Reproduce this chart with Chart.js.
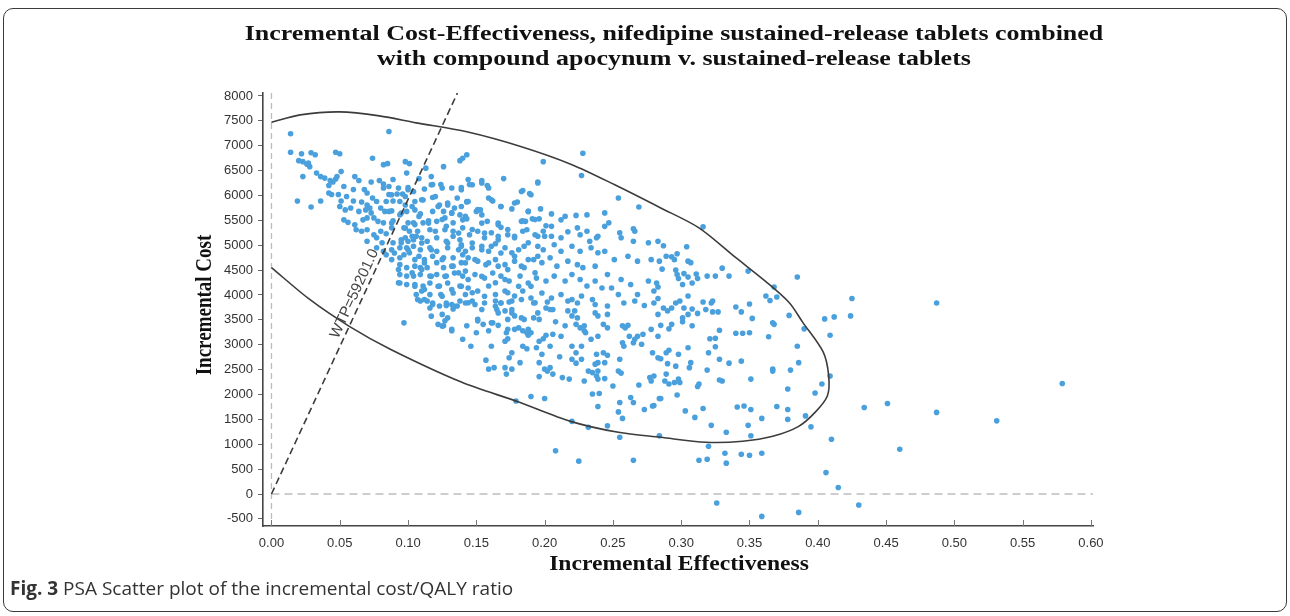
<!DOCTYPE html>
<html>
<head>
<meta charset="utf-8">
<script src="https://cdn.jsdelivr.net/npm/chart.js@4.4.1/dist/chart.umd.min.js"></script>
<style>
  html, body { margin: 0; padding: 0; background: #fff; }
  #wrap { position: relative; width: 1290px; height: 616px; overflow: hidden; }
  #frame { position: absolute; left: 3px; top: 8px; width: 1284px; height: 604px; box-sizing: border-box;
           border: 1px solid #3a3a3a; border-radius: 10px; pointer-events: none; }
  #caption { position: absolute; left: 10px; top: 575px; font-family: 'Open Sans', sans-serif;
             font-size: 19px; line-height: 26px; color: #333; white-space: nowrap; }
  #caption b { font-weight: 700; }
</style>
</head>
<body>
<div id="wrap">
  <canvas id="psaChart" width="1290" height="616"></canvas>
  <div id="frame"></div>
  <div id="caption"><b>Fig. 3</b> PSA Scatter plot of the incremental cost/QALY ratio</div>
</div>
<script>
const titleLines = [
    'Incremental Cost-Effectiveness, nifedipine sustained-release tablets combined',
    'with compound apocynum v. sustained-release tablets'
];
const xTitle = 'Incremental Effectiveness';
const yTitle = 'Incremental Cost';
const xTicks = [0, 0.05, 0.10, 0.15, 0.20, 0.25, 0.30, 0.35, 0.40, 0.45, 0.50, 0.55, 0.60];
const yTicks = [-500, 0, 500, 1000, 1500, 2000, 2500, 3000, 3500, 4000, 4500, 5000, 5500, 6000, 6500, 7000, 7500, 8000];

const wtp = 59201.0;

// confidence ellipse (effectiveness / cost)
const ellipseEffect = [0.000, 0.021, 0.050, 0.079, 0.106, 0.143, 0.183, 0.220, 0.251, 0.285, 0.313, 0.340, 0.362, 0.379, 0.389, 0.404,
    0.408, 0.407, 0.398, 0.386, 0.367, 0.345, 0.318, 0.285, 0.254, 0.219, 0.181, 0.139, 0.087, 0.057, 0.028, 0.000];
const ellipseCost = [7470, 7620, 7680, 7600, 7460, 7280, 6980, 6620, 6220, 5750, 5350, 4750, 4270, 3850, 3450, 2850,
    2370, 1970, 1640, 1360, 1160, 1060, 1040, 1140, 1240, 1460, 1850, 2250, 2910, 3370, 3910, 4550];

// PSA runs: [incremental effectiveness, incremental cost]
const psaRuns = [
    [0.014,7240],[0.086,7285],[0.014,6870],[0.022,6840],[0.029,6860],[0.032,6820],[0.047,6870],[0.050,6840],[0.074,6750],
    [0.020,6700],[0.023,6680],[0.026,6630],[0.028,6580],[0.027,6650],[0.082,6620],[0.085,6640],[0.098,6680],[0.101,6640],
    [0.113,6550],[0.126,6580],[0.138,6700],[0.023,6380],[0.033,6450],[0.036,6380],[0.039,6350],[0.043,6300],[0.047,6330],
    [0.048,6380],[0.051,6480],[0.061,6380],[0.064,6300],[0.073,6270],[0.079,6300],[0.082,6230],[0.089,6320],[0.099,6450],
    [0.108,6340],[0.117,6380],[0.118,6220],[0.124,6220],[0.132,6150],[0.139,6160],[0.042,6200],[0.045,6270],[0.053,6180],
    [0.060,6120],[0.068,6120],[0.070,6050],[0.082,6150],[0.086,6020],[0.092,6030],[0.096,6030],[0.100,6160],[0.104,6080],
    [0.112,6130],[0.019,5890],[0.029,5770],[0.036,5890],[0.042,6050],[0.044,6020],[0.049,6020],[0.051,5890],[0.055,5980],
    [0.060,5890],[0.066,5870],[0.070,5810],[0.074,5950],[0.077,5880],[0.084,5880],[0.089,5890],[0.094,5880],[0.098,5810],
    [0.105,5880],[0.111,5910],[0.118,5960],[0.123,5810],[0.129,5810],[0.134,5750],[0.139,5780],[0.143,5880],[0.050,5780],
    [0.054,5710],[0.058,5750],[0.064,5680],[0.069,5710],[0.072,5750],[0.073,5650],[0.080,5750],[0.083,5680],[0.088,5690],
    [0.099,5680],[0.105,5710],[0.109,5630],[0.118,5680],[0.126,5680],[0.132,5650],[0.138,5610],[0.053,5510],[0.056,5460],
    [0.061,5410],[0.067,5510],[0.070,5550],[0.075,5550],[0.078,5480],[0.082,5450],[0.089,5490],[0.094,5610],[0.100,5450],
    [0.104,5450],[0.111,5450],[0.115,5490],[0.121,5480],[0.127,5550],[0.133,5450],[0.140,5510],[0.062,5310],[0.066,5280],
    [0.070,5310],[0.075,5210],[0.080,5280],[0.084,5230],[0.088,5350],[0.097,5350],[0.101,5280],[0.107,5280],[0.116,5310],
    [0.120,5280],[0.127,5310],[0.133,5280],[0.140,5350],[0.070,5080],[0.077,5150],[0.081,5050],[0.089,5050],[0.095,5050],
    [0.098,5150],[0.100,5080],[0.104,5110],[0.106,5180],[0.110,5150],[0.114,5080],[0.121,5150],[0.128,5080],[0.133,5180],
    [0.138,5110],[0.077,4950],[0.082,4880],[0.088,4910],[0.094,4950],[0.099,4950],[0.104,4980],[0.109,4910],[0.116,4950],
    [0.121,4880],[0.129,4950],[0.137,4910],[0.142,4880],[0.084,4810],[0.088,4710],[0.094,4750],[0.097,4810],[0.101,4850],
    [0.108,4780],[0.112,4710],[0.118,4780],[0.126,4750],[0.133,4750],[0.140,4810],[0.094,4610],[0.099,4550],[0.105,4580],
    [0.109,4550],[0.114,4550],[0.121,4650],[0.126,4550],[0.133,4580],[0.139,4650],[0.094,4410],[0.099,4380],[0.104,4380],
    [0.109,4410],[0.116,4380],[0.121,4410],[0.128,4380],[0.134,4440],[0.140,4380],[0.094,4240],[0.099,4210],[0.105,4210],
    [0.111,4180],[0.116,4240],[0.123,4180],[0.129,4240],[0.138,4180],[0.106,4010],[0.110,4080],[0.116,4010],[0.124,4010],
    [0.133,4040],[0.142,4010],[0.109,3880],[0.118,3840],[0.128,3840],[0.138,3880],
    [0.097,3440],[0.107,3910],[0.114,3880],[0.118,3810],[0.116,3740],[0.123,3780],[0.128,3790],[0.132,3810],[0.136,3780],
    [0.133,3720],[0.125,3610],[0.129,3540],[0.127,3480],[0.122,3410],[0.126,3380],[0.132,3280],[0.140,3110],[0.143,3380],
    [0.228,6850],[0.199,6680],[0.227,6400],[0.143,6820],[0.140,6750],[0.170,6340],[0.195,6270],[0.154,6300],[0.158,6200],
    [0.144,6320],[0.145,6220],[0.184,6100],[0.189,6040],[0.254,5950],[0.269,5770],[0.143,5870],[0.159,5950],[0.162,5890],
    [0.168,5780],[0.176,5730],[0.180,5870],[0.188,5680],[0.197,5730],[0.205,5630],[0.215,5580],[0.223,5600],[0.231,5610],
    [0.244,5650],[0.247,5450],[0.212,5510],[0.150,5680],[0.153,5710],[0.154,5610],[0.143,5530],[0.158,5480],[0.166,5410],
    [0.168,5360],[0.184,5490],[0.186,5480],[0.191,5530],[0.196,5530],[0.201,5390],[0.205,5380],[0.224,5350],[0.231,5280],
    [0.239,5180],[0.244,5380],[0.255,5250],[0.256,5150],[0.265,5330],[0.266,5280],[0.265,5080],[0.276,5050],[0.283,5080],
    [0.145,5210],[0.151,5280],[0.156,5150],[0.161,5250],[0.166,5180],[0.173,5210],[0.178,5150],[0.184,5280],[0.187,5310],
    [0.193,5210],[0.199,5280],[0.200,5180],[0.205,5180],[0.212,5150],[0.217,5270],[0.226,5210],[0.233,5080],[0.238,5150],
    [0.139,5010],[0.147,4950],[0.154,4980],[0.159,4880],[0.164,5030],[0.171,4950],[0.176,4850],[0.181,4910],[0.188,5050],
    [0.195,4980],[0.199,4910],[0.207,5010],[0.212,4880],[0.220,4980],[0.226,4880],[0.234,4950],[0.239,4850],[0.244,4880],
    [0.251,4710],[0.261,4780],[0.268,4680],[0.278,4710],[0.284,4680],[0.144,4750],[0.151,4680],[0.157,4610],[0.164,4710],
    [0.171,4610],[0.178,4680],[0.185,4550],[0.192,4710],[0.198,4650],[0.204,4750],[0.209,4580],[0.217,4680],[0.224,4610],
    [0.228,4550],[0.237,4580],[0.246,4410],[0.256,4310],[0.263,4210],[0.276,4280],[0.142,4480],[0.149,4410],[0.156,4340],
    [0.162,4440],[0.168,4380],[0.174,4280],[0.182,4380],[0.188,4240],[0.194,4340],[0.201,4280],[0.207,4380],[0.215,4280],
    [0.220,4410],[0.226,4310],[0.231,4180],[0.237,4280],[0.242,4140],[0.249,4140],[0.254,4010],[0.268,4010],[0.280,4080],
    [0.144,4140],[0.151,4080],[0.159,4180],[0.164,4010],[0.171,4080],[0.178,3980],[0.184,4080],[0.190,3940],[0.198,4040],
    [0.205,3940],[0.212,4010],[0.220,3910],[0.227,3980],[0.235,3910],[0.147,3880],[0.156,3840],[0.168,3840],[0.176,3880],
    [0.142,3840],[0.149,3810],[0.164,3880],[0.168,3840],[0.174,3860],[0.192,3840],[0.202,3860],[0.217,3880],[0.224,3840],
    [0.237,3810],[0.246,3780],[0.258,3840],[0.266,3880],[0.273,3790],[0.280,3840],[0.165,3710],[0.171,3680],[0.176,3640],
    [0.178,3580],[0.173,3510],[0.183,3540],[0.192,3540],[0.196,3510],[0.151,3480],[0.155,3410],[0.162,3440],[0.166,3390],
    [0.172,3240],[0.178,3310],[0.181,3340],[0.184,3280],[0.187,3240],[0.190,3240],[0.188,3190],[0.171,3070],[0.173,3120],
    [0.150,3240],[0.159,3280],[0.146,2970],[0.161,2970],[0.176,2840],[0.174,2740],[0.182,2640],[0.157,2690],[0.159,2510],
    [0.163,2540],[0.171,2540],[0.172,2410],[0.176,2510],[0.184,2970],[0.187,2920],[0.194,2940],[0.198,2810],[0.204,2970],
    [0.201,3740],[0.204,3710],[0.196,2640],[0.200,2510],[0.204,2540],[0.202,2470],[0.196,2360],[0.206,2410],[0.211,2760],
    [0.208,3460],[0.201,3190],[0.206,3210],[0.215,3380],[0.213,2340],[0.218,2310],[0.220,2710],[0.223,2840],[0.227,2710],
    [0.223,2630],[0.217,3680],[0.222,3680],[0.220,3580],[0.224,3540],[0.223,3410],[0.226,3340],[0.229,3380],[0.229,3280],
    [0.230,3240],[0.220,2970],[0.227,2970],[0.229,2270],[0.232,2470],[0.235,2440],[0.239,2470],[0.238,2370],[0.239,2310],
    [0.244,2320],[0.237,2610],[0.239,2640],[0.244,2640],[0.238,2810],[0.243,2840],[0.246,2790],[0.235,2010],[0.240,2020],
    [0.239,1760],[0.250,2170],[0.255,2710],[0.254,2470],[0.256,2430],[0.237,3640],[0.239,3580],[0.246,3610],[0.243,3410],
    [0.246,3340],[0.234,3110],[0.239,3170],[0.257,3380],[0.259,3340],[0.261,3390],[0.262,3170],[0.266,3110],[0.268,3170],
    [0.265,3040],[0.257,3040],[0.258,2970],[0.271,3010],[0.272,3210],[0.278,3310],[0.279,2840],[0.283,2740],[0.277,2340],
    [0.278,2270],[0.280,2370],[0.269,2190],[0.263,1940],[0.265,1840],[0.255,1840],[0.254,1650],[0.257,1520],[0.273,1700],
    [0.279,1770],[0.280,1780],[0.284,1920],[0.246,1370],[0.255,1140],[0.284,1170],[0.232,1340],[0.220,1460],[0.208,870],
    [0.225,660],[0.265,680],[0.190,1960],[0.200,1920],[0.179,1870],[0.196,3070],[0.199,3120],[0.212,3170],[0.206,3710],
    [0.316,5370],[0.287,4990],[0.304,4970],[0.289,4780],[0.293,4770],[0.295,4710],[0.297,4830],[0.305,4680],[0.307,4650],
    [0.286,4520],[0.296,4500],[0.297,4410],[0.302,4430],[0.305,4360],[0.298,4330],[0.301,4210],[0.308,4240],[0.311,4420],
    [0.312,4330],[0.319,4380],[0.325,4380],[0.330,4540],[0.335,4380],[0.349,4480],[0.368,4160],[0.385,4360],[0.425,3930],
    [0.362,3980],[0.370,3960],[0.365,3890],[0.282,4240],[0.283,4160],[0.305,3980],[0.299,3880],[0.316,3860],[0.323,3880],
    [0.350,3820],[0.283,3930],
    [0.287,3740],[0.293,3740],[0.290,3680],[0.296,3840],[0.302,3740],[0.308,3720],[0.318,3710],[0.322,3840],[0.323,3660],
    [0.327,3660],[0.340,3760],[0.344,3660],[0.283,3610],[0.305,3610],[0.312,3630],[0.301,3540],[0.301,3460],[0.308,3380],
    [0.293,3410],[0.285,3390],[0.291,3320],[0.283,3170],[0.352,3530],[0.367,3440],[0.368,3410],[0.379,3590],[0.328,3290],
    [0.340,3230],[0.345,3230],[0.350,3240],[0.364,3160],[0.321,3120],[0.325,3130],[0.325,2960],[0.305,2940],[0.291,2890],
    [0.289,2840],[0.298,2810],[0.320,2840],[0.328,2710],[0.344,2670],[0.335,2630],[0.307,2640],[0.306,2540],[0.296,2570],
    [0.290,2620],[0.285,2720],[0.319,2490],[0.367,2510],[0.367,2470],[0.380,2490],[0.386,2640],[0.385,2970],[0.390,3320],
    [0.289,2410],[0.288,2270],[0.291,2210],[0.295,2240],[0.298,2310],[0.299,2240],[0.312,2160],[0.313,2210],[0.328,2290],
    [0.330,2270],[0.351,2310],[0.378,2110],[0.403,2210],[0.409,2370],[0.409,3190],[0.412,3560],[0.405,3520],[0.424,3580],
    [0.398,2030],[0.297,1990],[0.285,1920],[0.316,1720],[0.303,1670],[0.310,1540],[0.341,1750],[0.346,1770],[0.351,1700],
    [0.370,1760],[0.378,1700],[0.359,1520],[0.378,1500],[0.391,1570],[0.395,1350],[0.349,1380],[0.322,1380],[0.333,1240],
    [0.351,1170],[0.410,1100],[0.320,960],[0.332,820],[0.344,800],[0.350,780],[0.359,820],[0.313,680],[0.319,700],
    [0.333,620],[0.406,430],[0.415,130],[0.326,-180],[0.359,-450],[0.386,-370],
    [0.487,3840],[0.579,2220],[0.434,1740],[0.451,1820],[0.487,1640],[0.531,1470],[0.460,900],[0.430,-220],
    [0.086,6180],[0.093,6150],[0.100,6115],[0.117,6215],[0.125,6150],[0.139,6115],[0.147,6215],[0.154,6250],[0.159,6150],
    [0.183,6080],[0.190,6015],[0.195,6250],[0.088,6015],[0.098,5980],[0.110,5915],[0.120,5980],[0.129,5850],[0.136,5950],
    [0.144,5880],[0.151,5715],[0.161,5915],[0.168,5780],[0.178,5850],[0.188,5680],[0.086,5680],[0.095,5645],[0.103,5780],
    [0.108,5580],[0.122,5780],[0.132,5645],[0.142,5580],[0.154,5445],[0.166,5445],[0.173,5315],[0.183,5480],[0.193,5515],
    [0.088,5445],[0.098,5345],[0.105,5415],[0.115,5445],[0.125,5515],[0.128,5380],[0.137,5245],[0.147,5315],[0.156,5245],
    [0.166,5110],[0.178,5180],[0.185,4980],[0.195,5180],[0.095,5110],[0.103,5180],[0.110,5045],[0.117,4910],[0.129,5045],
    [0.139,4980],[0.147,5045],[0.154,4910],[0.161,4980],[0.168,4845],[0.178,4780],[0.188,4710],[0.195,4780],[0.090,4845],
    [0.100,4910],[0.105,4710],[0.112,4645],[0.125,4710],[0.132,4580],[0.142,4645],[0.149,4710],[0.159,4645],[0.166,4580],
    [0.173,4510],[0.183,4580],[0.193,4445],[0.093,4510],[0.103,4445],[0.110,4510],[0.117,4375],[0.127,4375],[0.137,4445],
    [0.144,4310],[0.154,4375],[0.164,4245],[0.171,4310],[0.181,4175],[0.190,4175],[0.093,4245],[0.105,4175],[0.112,4110],
    [0.122,4175],[0.132,4110],[0.139,4175],[0.147,4045],[0.156,3975],[0.164,3775],[0.173,4045],[0.183,3910],[0.193,3845],
    [0.112,3910],[0.125,3975],[0.134,3775],[0.144,3845],[0.154,3710],[0.166,3640],[0.176,3710],[0.185,3510],[0.195,3640],
    [0.117,3575],[0.125,3375],[0.132,3310],[0.151,3510],[0.161,3440],[0.173,3310],[0.188,3310]
];

const yTop = 8060;
const textStretch = 1.18;   // the source figure is a bit wide, titles look stretched

function stretchedText(ctx, text, x, y, font, rotate) {
    ctx.save();
    ctx.translate(x, y);
    ctx.scale(textStretch, 1);
    if (rotate) ctx.rotate(rotate);
    ctx.font = font;
    ctx.fillStyle = '#111';
    ctx.textAlign = 'center';
    ctx.textBaseline = 'middle';
    ctx.fillText(text, 0, 0);
    ctx.restore();
}

// dashed zero lines, inward x ticks, WTP label and the titles
const decorPlugin = {
    id: 'decor',
    beforeDatasetsDraw(chart) {
        const { ctx, chartArea, scales } = chart;
        const x0 = scales.x.getPixelForValue(0);
        const y0 = scales.y.getPixelForValue(0);
        ctx.save();
        ctx.strokeStyle = '#bdbdbd';
        ctx.lineWidth = 1.3;
        ctx.setLineDash([6, 4]);
        ctx.beginPath();
        ctx.moveTo(x0, chartArea.top);
        ctx.lineTo(x0, chartArea.bottom);
        ctx.stroke();
        ctx.setLineDash([8, 5]);
        ctx.beginPath();
        ctx.moveTo(x0, y0);
        ctx.lineTo(chartArea.right, y0);
        ctx.stroke();
        ctx.setLineDash([]);
        ctx.strokeStyle = '#777';
        ctx.lineWidth = 1;
        xTicks.forEach(v => {
            const px = Math.round(scales.x.getPixelForValue(v)) + 0.5;
            ctx.beginPath();
            ctx.moveTo(px, chartArea.bottom);
            ctx.lineTo(px, chartArea.bottom - 6);
            ctx.stroke();
        });
        ctx.restore();
    },
    afterDatasetsDraw(chart) {
        const { ctx, scales, chartArea } = chart;
        const ax = scales.x.getPixelForValue(0), ay = scales.y.getPixelForValue(0);
        const bx = scales.x.getPixelForValue(yTop / wtp), by = scales.y.getPixelForValue(yTop);
        const angle = Math.atan2(by - ay, bx - ax);
        const at = 3950;
        ctx.save();
        ctx.translate(scales.x.getPixelForValue(at / wtp), scales.y.getPixelForValue(at));
        ctx.rotate(angle);
        ctx.font = '15px "Liberation Sans", sans-serif';
        ctx.fillStyle = '#444';
        ctx.textAlign = 'center';
        ctx.textBaseline = 'middle';
        ctx.fillText('WTP=' + wtp.toFixed(1), 0, -9);
        ctx.restore();

        const serif = '"Liberation Serif", serif';
        const midX = (chartArea.left + chartArea.right) / 2;
        stretchedText(ctx, titleLines[0], midX - 4, 34, 'bold 22px ' + serif);
        stretchedText(ctx, titleLines[1], midX - 4, 59, 'bold 22px ' + serif);
        stretchedText(ctx, xTitle, midX + 1, 565, 'bold 20px ' + serif);
        stretchedText(ctx, yTitle, 205, 305, 'bold 19px ' + serif, -Math.PI / 2);
    }
};

const ctx = document.getElementById('psaChart').getContext('2d');
new Chart(ctx, {
    type: 'scatter',
    data: {
        datasets: [
            {
                label: 'PSA',
                data: psaRuns.map(p => ({ x: p[0], y: p[1] })),
                backgroundColor: 'rgb(74,160,220)',
                borderWidth: 0,
                pointRadius: 2.8,
                order: 3
            },
            {
                label: 'Ellipse',
                data: ellipseEffect.map((e, i) => ({ x: e, y: ellipseCost[i] })),
                showLine: true,
                borderColor: '#3c3c3c',
                borderWidth: 1.6,
                pointRadius: 0,
                tension: 0.3,
                fill: false,
                order: 1
            },
            {
                label: 'WTP',
                data: [{ x: 0, y: 0 }, { x: yTop / wtp, y: yTop }],
                showLine: true,
                borderColor: '#3c3c3c',
                borderWidth: 1.6,
                borderDash: [7, 4],
                pointRadius: 0,
                fill: false,
                order: 2
            }
        ]
    },
    options: {
        responsive: false,
        animation: false,
        layout: { padding: { left: 194, right: 197, top: 93, bottom: 39 } },
        plugins: {
            legend: { display: false },
            tooltip: { enabled: false },
            title: { display: false }
        },
        scales: {
            x: {
                type: 'linear',
                min: -0.0062,
                max: 0.6015,
                afterBuildTicks: s => { s.ticks = xTicks.map(v => ({ value: v })); },
                afterFit: s => { s.height = 51; },
                grid: { drawOnChartArea: false, drawTicks: false },
                border: { color: '#444', width: 1.6 },
                ticks: {
                    autoSkip: false,
                    maxRotation: 0,
                    padding: 10,
                    color: '#333',
                    font: { family: '"Liberation Sans", sans-serif', size: 13 },
                    callback: v => v.toFixed(2)
                },
                title: { display: false }
            },
            y: {
                type: 'linear',
                min: -643,
                max: yTop,
                afterBuildTicks: s => { s.ticks = yTicks.map(v => ({ value: v })); },
                afterFit: s => { s.width = 69; },
                grid: { drawOnChartArea: false, drawTicks: true, tickLength: 5, tickColor: '#666' },
                border: { color: '#444', width: 1.6 },
                ticks: {
                    autoSkip: false,
                    padding: 5,
                    color: '#333',
                    font: { family: '"Liberation Sans", sans-serif', size: 13 },
                    callback: v => String(v)
                },
                title: { display: false }
            }
        }
    },
    plugins: [decorPlugin]
});
</script>
</body>
</html>
